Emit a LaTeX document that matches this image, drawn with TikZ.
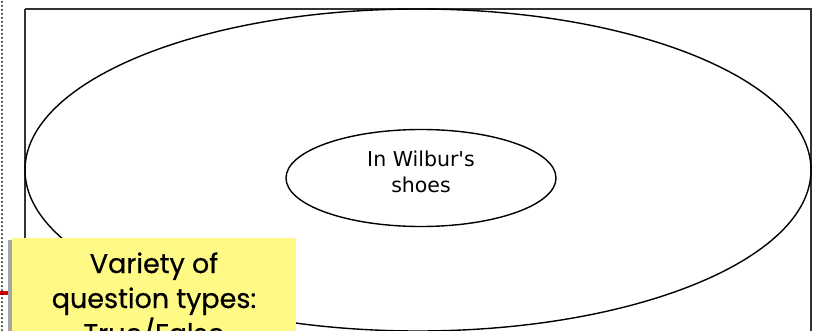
\documentclass[tikz,border=0pt]{standalone}
\usepackage{fontspec}
\usetikzlibrary{shapes.geometric}
\setmainfont{Liberation Sans}
\newfontfamily\notefont[FakeBold=0.6]{Poppins}
\newfontfamily\handfont{DejaVu Sans}
\definecolor{noteyellow}{HTML}{FFFA85}
\definecolor{frame}{HTML}{333333}
\begin{document}
\begin{tikzpicture}[x=1pt,y=-1pt,
  framebox/.style={draw=frame,line width=1.5pt},
  ovalline/.style={draw=black,line width=1.4pt},
  dotline/.style={draw=black,line width=2pt,dash pattern=on 0pt off 4pt,line cap=round}]
\useasboundingbox (0,0) rectangle (813,331);
\clip (0,0) rectangle (813,331);
\fill[white] (0,0) rectangle (813,331);
% dotted guide at the left
\draw[red!85!black,line width=4pt] (0,293) -- (11,293);
\draw[dotline] (2,2) -- (2,331);
% frame
\draw[framebox] (25,9) -- (25,340) (25,9) -- (811,9) -- (811,340);
% ellipses
\node[ovalline,ellipse,minimum width=786pt,minimum height=322pt,inner sep=0pt] (outer) at (418,170) {};
\node[ovalline,ellipse,minimum width=270pt,minimum height=97pt,inner sep=0pt] (inner) at (421,178) {};
\node[align=center,inner sep=0pt,anchor=base,font=\handfont\fontsize{20.5}{26}\selectfont] (innerlabel) at (421,193) {In Wilbur's\\shoes};
% yellow note
\fill[black!35] (8,240) rectangle (13,340);
\node[fill=noteyellow,anchor=north west,minimum width=284pt,minimum height=110pt,inner sep=0pt] (note) at (12,238) {};
\node[anchor=base,align=center,inner sep=0pt,font=\notefont\fontsize{27}{35}\selectfont] (notetext) at (154,343) {Variety of\\question types:\\True/False};
\end{tikzpicture}
\end{document}
